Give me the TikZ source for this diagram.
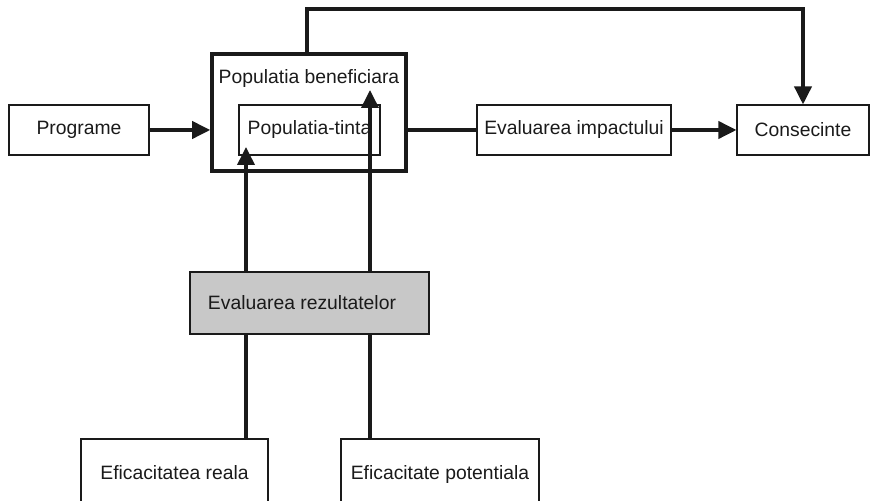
\documentclass[tikz,border=0pt]{standalone}
\usepackage{fontspec}
\setmainfont{Liberation Sans}
\usepackage{xcolor}
\usepackage{tikz}
\usetikzlibrary{arrows.meta, positioning}
\definecolor{evgray}{HTML}{C8C8C8}
\definecolor{evink}{HTML}{1A1A1A}

\begin{document}
\begin{tikzpicture}[
  box/.style={rectangle, draw=evink, line width=0.6pt, minimum height=1.0cm,
    font=\fontsize{11}{13}\selectfont, inner sep=0pt, text=evink},
  link/.style={draw=evink, line width=2.1pt},
  arr/.style={link, -{Triangle[length=0.36cm, width=0.34cm]}},
]
  \useasboundingbox (0,0) rectangle (17.4,10.02);

  \node[box, minimum width=2.8cm] (prog) at (1.58,7.42) {Programe};
  \node[box, draw=evink, line width=2pt, minimum width=3.88cm, minimum height=2.34cm] (benef) at (6.18,7.77) {};
  \node[font=\fontsize{11}{13}\selectfont, text=evink] (beneflbl) at ([yshift=-0.52cm]benef.north) {Populatia beneficiara};
  \node[box, minimum width=2.82cm] (tinta) at (6.19,7.42) {Populatia-tinta};
  \node[box, minimum width=3.88cm] (impact) at (11.48,7.42) {Evaluarea impactului};
  \node[box, minimum width=2.64cm] (consec) at (16.06,7.42) {Consecinte};
  \node[box, fill=evgray, minimum width=4.78cm, minimum height=1.24cm] (rezult) at (6.19,3.96) {\hspace*{-0.3cm}Evaluarea rezultatelor};
  \node[box, minimum width=3.74cm, minimum height=1.44cm] (reala) at (3.49,0.52) {\raisebox{0.1cm}{Eficacitatea reala}};
  \node[box, minimum width=3.96cm, minimum height=1.44cm] (potent) at (8.8,0.52) {\raisebox{0.1cm}{Eficacitate potentiala}};

  \coordinate (tipA) at (4.92,7.08);
  \coordinate (tipB) at (7.40,8.22);
  \coordinate (topL) at (6.14,9.84);

  \draw[arr] (prog) -- (prog -| benef.west);
  \draw[link] (prog -| benef.east) -- (impact);
  \draw[arr] (impact) -- (consec);
  \draw[arr] (benef.north -| topL) -- (topL) -| (consec.north);

  \draw[link] (reala.north -| tipA) -- (rezult.south -| tipA);
  \draw[arr] (rezult.north -| tipA) -- (tipA);
  \draw[link] (potent.north -| tipB) -- (rezult.south -| tipB);
  \draw[arr] (rezult.north -| tipB) -- (tipB);
\end{tikzpicture}
\end{document}
